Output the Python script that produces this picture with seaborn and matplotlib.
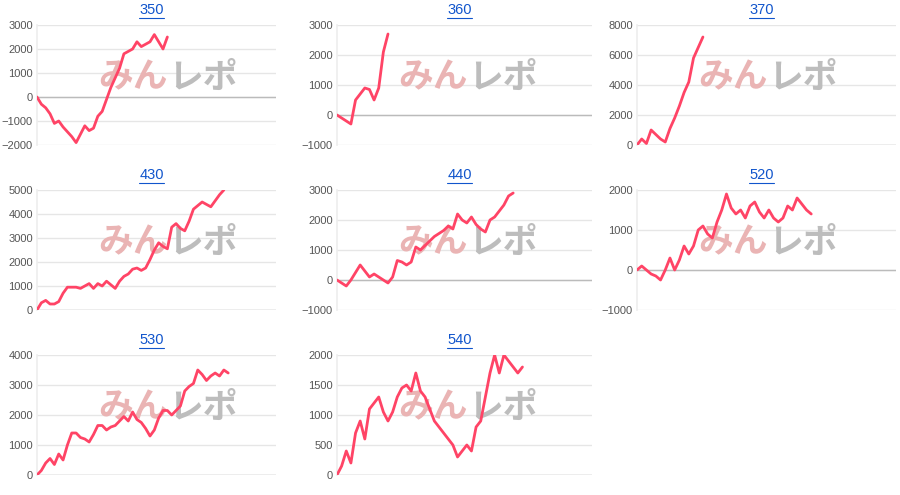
import matplotlib
matplotlib.use("Agg")
import matplotlib.pyplot as plt
from matplotlib.lines import Line2D
import seaborn as sns
import pandas as pd

sns.set_theme(style="white")
plt.rcParams['font.family'] = ['Liberation Sans', 'DejaVu Sans']

names = ["350", "360", "370", "430", "440", "520", "530", "540"]
v350 = [0, -300, -450, -700, -1100, -1000, -1250, -1450, -1650, -1900, -1550, -1200, -1400, -1300, -800, -600,
        -100, 400, 800, 1200, 1800, 1900, 2000, 2300, 2100, 2200, 2300, 2600, 2300, 2000, 2500]
v360 = [0, -100, -200, -300, 500, 700, 900, 850, 500, 900, 2100, 2700]
v370 = [0, 400, 100, 1000, 700, 400, 200, 1100, 1800, 2600, 3500, 4200, 5800, 6500, 7200]
v430 = [0, 300, 400, 250, 250, 350, 700, 950, 950, 950, 900, 1000, 1100, 900, 1100, 1000, 1200, 1050, 900, 1200,
        1400, 1500, 1700, 1750, 1650, 1750, 2100, 2500, 2800, 2650, 2550, 3450, 3600, 3400, 3300, 3700, 4200, 4350,
        4500, 4400, 4300, 4550, 4800, 5000]
v440 = [0, -100, -200, 0, 250, 500, 300, 100, 200, 100, 0, -100, 100, 650, 600, 500, 600, 1100, 1000, 1150, 1300,
        1450, 1550, 1650, 1800, 1700, 2200, 2000, 1900, 2100, 1850, 1700, 1600, 2000, 2100, 2300, 2500, 2800, 2900]
v520 = [0, 100, 0, -100, -150, -250, 0, 300, 0, 250, 600, 400, 600, 1000, 1100, 900, 800, 1200, 1500, 1900, 1550,
        1400, 1500, 1300, 1600, 1700, 1450, 1300, 1500, 1300, 1200, 1300, 1600, 1500, 1800, 1650, 1500, 1400]
v530 = [0, 150, 400, 550, 350, 700, 500, 1000, 1400, 1400, 1250, 1200, 1100, 1350, 1650, 1650, 1500, 1600, 1650,
        1800, 1950, 1800, 2100, 1850, 1750, 1550, 1300, 1500, 1900, 2150, 2150, 2000, 2150, 2300, 2800, 2950, 3050,
        3500, 3350, 3150, 3300, 3400, 3300, 3500, 3400]
v540 = [0, 150, 400, 200, 700, 900, 600, 1100, 1200, 1300, 1050, 900, 1050, 1300, 1450, 1500, 1400, 1700, 1400,
        1300, 1100, 900, 800, 700, 600, 500, 300, 400, 500, 400, 800, 900, 1300, 1700, 2000, 1700, 2000, 1900, 1800,
        1700, 1800]
series = [v350, v360, v370, v430, v440, v520, v530, v540]
ylims = [(-2000, 3000, 1000), (-1000, 3000, 1000), (0, 8000, 2000), (0, 5000, 1000),
         (-1000, 3000, 1000), (-1000, 2000, 1000), (0, 4000, 1000), (0, 2000, 500)]

W, H = 900, 495
fig = plt.figure(figsize=(9, 4.95), dpi=100)
col_w = [239, 255, 259]
line_color = "#ff4466"

for i, (name, vals, (lo, hi, st)) in enumerate(zip(names, series, ylims)):
    r, c = divmod(i, 3)
    left = c * 300 + 37
    top = r * 165 + 25
    ax = fig.add_axes([left / W, 1 - (top + 120) / H, col_w[c] / W, 120 / H])
    df = pd.DataFrame({"x": range(len(vals)), "y": vals})
    sns.lineplot(data=df, x="x", y="y", ax=ax, color=line_color, linewidth=2, zorder=3)
    ax.set_xlim(0, 55)
    ax.set_ylim(lo, hi)
    ax.set_yticks(range(lo, hi + 1, st))
    ax.set_xticks([])
    ax.set_xlabel("")
    ax.set_ylabel("")
    ax.grid(axis="y", color="#e6e6e6", linewidth=1)
    ax.set_axisbelow(True)
    ax.axhline(0, color="#bbbbbb", linewidth=1, zorder=1)
    for s in ["top", "right", "bottom"]:
        ax.spines[s].set_visible(False)
    ax.spines["left"].set_color("#eeeeee")
    ax.tick_params(axis="y", labelsize=8, labelcolor="#555555", length=0, pad=3)
    ax.set_facecolor("none")
    # watermark, behind the line
    cx = c * 300 + 168
    cy = top + 52
    ax.text(cx / W, 1 - cy / H, "みん", color="#eab4b4", fontsize=25, fontweight="bold",
            ha="right", va="center", family=["Noto Sans CJK JP"], zorder=2, transform=fig.transFigure)
    ax.text(cx / W, 1 - cy / H, "レポ", color="#bdbdbd", fontsize=25, fontweight="bold",
            ha="left", va="center", family=["Noto Sans CJK JP"], zorder=2, transform=fig.transFigure)
    # underlined title
    tx = left + col_w[c] * 0.48
    t = fig.text(tx / W, 1 - (top - 15) / H, name, color="#1155cc", fontsize=10.5, ha="center", va="center")
    fig.canvas.draw()
    bb = t.get_window_extent()
    fig.add_artist(Line2D([bb.x0 / W, bb.x1 / W], [(bb.y0 - 1) / H] * 2, color="#1155cc", linewidth=0.8))

fig.savefig("out.png", dpi=100)
